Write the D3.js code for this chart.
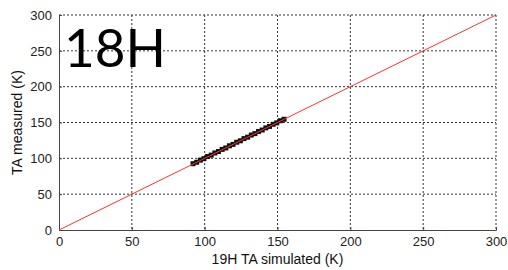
<!DOCTYPE html>
<html>
<head>
<meta charset="utf-8">
<script src="https://cdn.jsdelivr.net/npm/d3@7"></script>
<style>
  body { margin: 0; background: #fff; }
  text { font-family: Arial, "Liberation Sans", sans-serif; }
</style>
</head>
<body>
<svg id="chart"></svg>
<script>
// values
const xTicks = [0, 50, 100, 150, 200, 250, 300];
const yTicks = [0, 50, 100, 150, 200, 250, 300];
const simulated = [92, 94.5, 97, 99.5, 102, 104.5, 107, 109.5, 112, 114.5, 117, 119.5, 122, 124.5, 127, 129.5, 132, 134.5, 137, 139.5, 142, 144.5, 147, 149.5, 152, 154.5];
const measured  = [92.5, 94.5, 97.5, 99.5, 102.5, 104.5, 107.5, 109.5, 112.5, 114.5, 117.5, 119.5, 122.5, 124.5, 127.5, 129.5, 132.5, 134.5, 137.5, 139.5, 142.5, 144.5, 147.5, 149.5, 152.5, 154.5];
const panelLabel = "18H";

const width = 508, height = 270;
const margin = {top: 15, right: 12, bottom: 40, left: 59};
const innerW = width - margin.left - margin.right;
const innerH = height - margin.top - margin.bottom;

const svg = d3.select("#chart").attr("width", width).attr("height", height);
const g = svg.append("g").attr("transform", `translate(${margin.left},${margin.top})`);

const x = d3.scaleLinear().domain([0, 300]).range([0, innerW]);
const y = d3.scaleLinear().domain([0, 300]).range([innerH, 0]);

// dotted grid
g.append("g").selectAll("line").data(xTicks.slice(1)).join("line")
  .attr("x1", d => x(d)).attr("x2", d => x(d))
  .attr("y1", 0).attr("y2", innerH)
  .attr("stroke", "#333").attr("stroke-dasharray", "2,2");
g.append("g").selectAll("line").data(yTicks.slice(1)).join("line")
  .attr("x1", 0).attr("x2", innerW)
  .attr("y1", d => y(d)).attr("y2", d => y(d))
  .attr("stroke", "#333").attr("stroke-dasharray", "2,2");

// axes
const xAxis = d3.axisBottom(x).tickValues(xTicks).tickSize(-3).tickPadding(7);
const yAxis = d3.axisLeft(y).tickValues(yTicks).tickSize(-3).tickPadding(7);

g.append("g").attr("transform", `translate(0,${innerH})`).call(xAxis)
  .call(a => a.select(".domain").attr("stroke", "#444"))
  .call(a => a.selectAll(".tick line").attr("stroke", "#444"))
  .call(a => a.selectAll("text").attr("font-size", 13).attr("fill", "#222"));
g.append("g").call(yAxis)
  .call(a => a.select(".domain").attr("stroke", "#444"))
  .call(a => a.selectAll(".tick line").attr("stroke", "#444"))
  .call(a => a.selectAll("text").attr("font-size", 13).attr("fill", "#222"));

// data squares
const pts = simulated.map((d, i) => ({sx: d, my: measured[i]}));
g.append("g").selectAll("rect").data(pts).join("rect")
  .attr("x", d => x(d.sx) - 2.5).attr("y", d => y(d.my) - 2.5)
  .attr("width", 5).attr("height", 5)
  .attr("fill", "#111");

// 1:1 line
g.append("line")
  .attr("x1", x(0)).attr("y1", y(0))
  .attr("x2", x(300)).attr("y2", y(300))
  .attr("stroke", "#ff3030").attr("stroke-width", 1);

// labels
svg.append("text")
  .attr("x", margin.left + innerW / 2).attr("y", 264)
  .attr("text-anchor", "middle").attr("font-size", 14).attr("fill", "#111")
  .text("19H TA simulated (K)");
svg.append("text")
  .attr("transform", `translate(22,${margin.top + innerH / 2}) rotate(-90)`)
  .attr("text-anchor", "middle").attr("font-size", 14).attr("fill", "#111")
  .text("TA measured (K)");

svg.append("text")
  .attr("x", 64).attr("y", 67)
  .style("font-family", "Lato, 'Open Sans', sans-serif")
  .attr("font-size", 53).attr("fill", "#000")
  .text(panelLabel);
</script>
</body>
</html>
